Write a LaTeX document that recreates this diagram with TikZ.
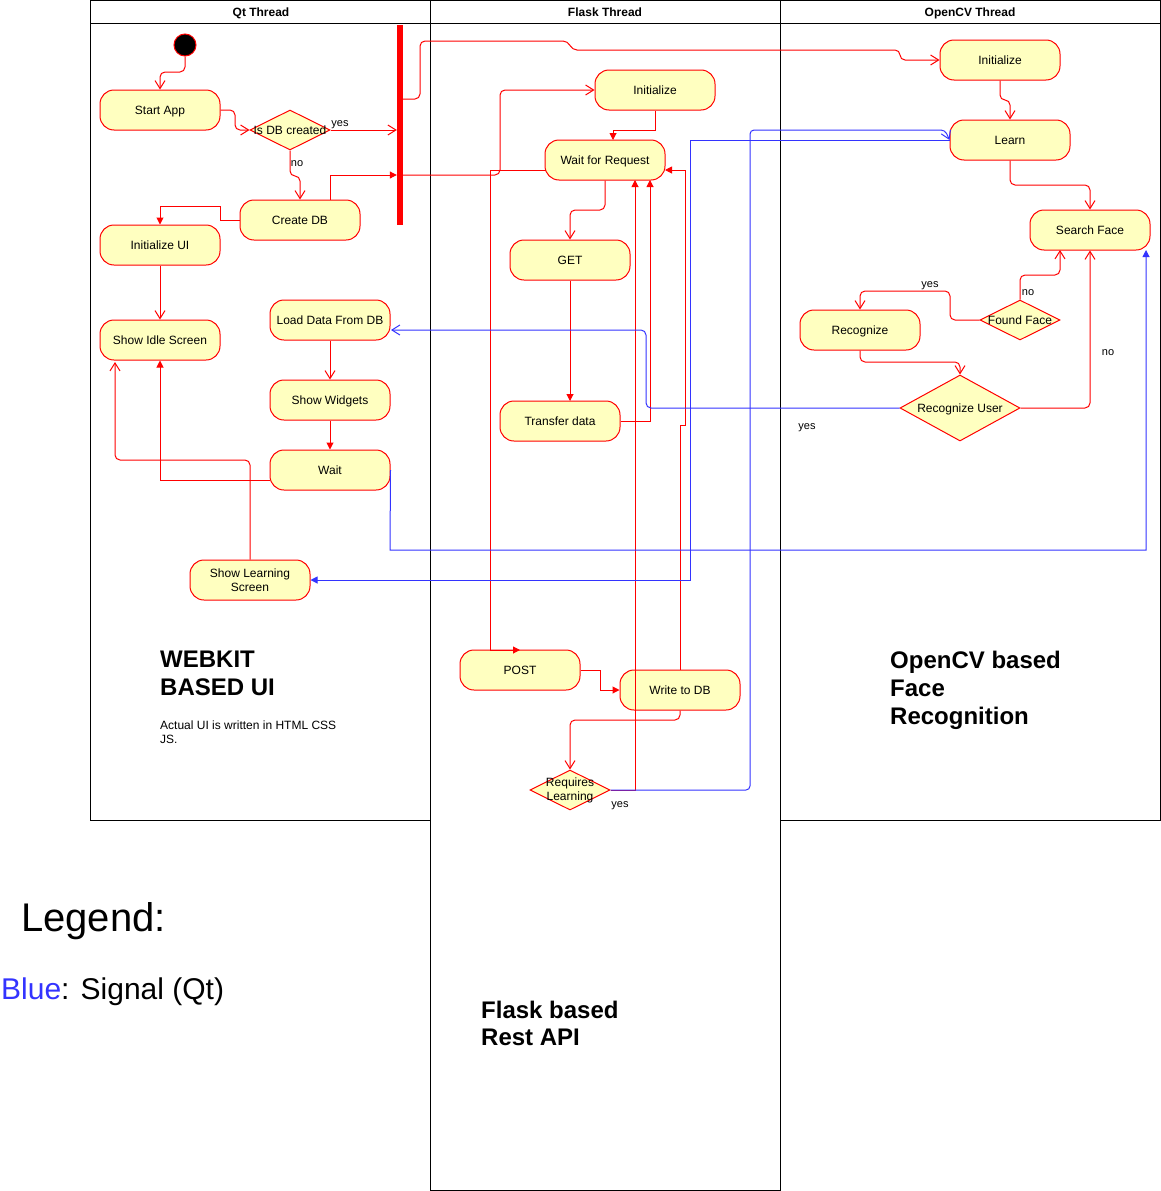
\documentclass[tikz,border=0pt]{standalone}
\usepackage{fontspec}
\setmainfont{Liberation Sans}
\usetikzlibrary{arrows.meta,shapes.geometric,calc}
\definecolor{actfill}{RGB}{255,255,192}
\definecolor{sigblue}{RGB}{51,51,255}
\begin{document}
\begin{tikzpicture}[x=1pt,y=-1pt,
  lane/.style={draw=black,line width=1pt},
  hdr/.style={font=\fontsize{12}{14}\selectfont\bfseries,inner sep=0pt,text height=9pt,text depth=2pt},
  actbase/.style={draw=red,fill=actfill,rounded corners=14pt,minimum width=120pt,minimum height=40pt,
    inner sep=0pt,align=center,font=\fontsize{12}{14}\selectfont,line width=1pt},
  act/.style={actbase,text height=10pt,text depth=2pt},
  dec/.style={draw=red,fill=actfill,diamond,inner sep=0pt,line width=1pt},
  dtxt/.style={inner sep=0pt,align=center,font=\fontsize{12}{14}\selectfont},
  dtxt1/.style={dtxt,text height=10pt,text depth=2pt},
  lab/.style={inner sep=0pt,font=\fontsize{11}{13}\selectfont,text height=8pt,text depth=2pt},
  big/.style={inner sep=0pt,anchor=base west,font=\fontsize{24}{28}\selectfont\bfseries},
  small/.style={inner sep=0pt,anchor=base west,font=\fontsize{12}{14}\selectfont},
  re/.style={draw=red,line width=1pt},
  be/.style={draw=sigblue,line width=1pt},
  oa/.style={-{Straight Barb[length=8pt,width=10pt]}},
  fa/.style={-{Triangle[length=7pt,width=7pt]}},
  rc/.style={rounded corners=5pt}
]
\useasboundingbox (0,0) rectangle (1161,1191);
% lanes
\draw[lane] (90.5,0.5) rectangle (430.5,820.5);
\draw[lane] (90.5,23.5) -- (430.5,23.5);
\draw[lane] (430.5,0.5) rectangle (780.5,1190.5);
\draw[lane] (430.5,23.5) -- (780.5,23.5);
\draw[lane] (780.5,0.5) rectangle (1160.5,820.5);
\draw[lane] (780.5,23.5) -- (1160.5,23.5);
\node[hdr] (hq) at (261,13) {Qt Thread};
\node[hdr] (hf) at (605,13) {Flask Thread};
\node[hdr] (ho) at (970,13) {OpenCV Thread};

% Qt nodes
\node[circle,fill=black,draw=red,minimum size=22pt,inner sep=0pt,line width=1pt] (init) at (185,45) {};
\node[act] (sa) at (160,110) {Start App};
\node[dec,minimum width=80pt,minimum height=40pt] (dbq) at (290,130) {};
\node[dtxt1] (dbqt) at (dbq) {Is DB created};
\node[act] (cdb) at (300,220) {Create DB};
\node[act] (iui) at (160,245) {Initialize UI};
\node[act] (sis) at (160,340) {Show Idle Screen};
\node[act] (ld) at (330,320) {Load Data From DB};
\node[act] (sw) at (330,400) {Show Widgets};
\node[act] (wt) at (330,470) {Wait};
\node[actbase] (slc) at (250,580) {Show Learning\\Screen};
\node[fill=red,minimum width=6pt,minimum height=200pt,inner sep=0pt] (fork) at (400,125) {};

% Flask nodes
\node[act] (finit) at (655,90) {Initialize};
\node[act] (wfr) at (605,160) {Wait for Request};
\node[act] (get) at (570,260) {GET};
\node[act] (td) at (560,421) {Transfer data};
\node[act] (post) at (520,670) {POST};
\node[act] (wdb) at (680,690) {Write to DB};
\node[dec,minimum width=80pt,minimum height=40pt] (rl) at (570,790) {};
\node[dtxt] (rlt) at (rl) {Requires\\Learning};

% OpenCV nodes
\node[act] (oinit) at (1000,60) {Initialize};
\node[act] (lrn) at (1010,140) {Learn};
\node[act] (sf) at (1090,230) {Search Face};
\node[dec,minimum width=80pt,minimum height=40pt] (ff) at (1020,320) {};
\node[dtxt1] (fft) at (ff) {Found Face};
\node[act] (rec) at (860,330) {Recognize};
\node[dec,minimum width=120pt,minimum height=66pt] (rcu) at (960,408) {};
\node[dtxt1] (rcut) at (rcu) {Recognize User};

% Qt edges
\draw[re,oa,rc] (init.south) -- (185,72) -- (160,72) -- (sa.north);
\draw[re,oa,rc] (sa.east) -- (235,110) -- (235,130) -- (dbq.west);
\draw[re,oa] (dbq.east) -- (dbq.east -| fork.west);
\node[lab] (l1) at (340,123) {yes};
\draw[re,oa,rc] (dbq.south) -- (290,176) -- (300,176) -- (cdb.north);
\node[lab] (l2) at (297,163) {no};
\draw[re,fa] ($(cdb.north)+(30,0)$) -- (330,175) -- (fork.west |- 0,175);
\draw[re,fa] (cdb.west) -- (220,220) -- (220,206) -- (160,206) -- (iui.north);
\draw[re,oa] (iui.south) -- (sis.north);
\draw[re,oa] (ld.south) -- (sw.north);
\draw[re,fa] (sw.south) -- (wt.north);
\draw[re,fa] (270,480) -- (160,480) -- (sis.south);
\draw[re,oa,rc] (slc.north) -- (250,460) -- (115,460) -- (115,362);

% fork outputs
\draw[re,oa,rc] (fork.east |- 0,99) -- (420,99) -- (420,41) -- (568,41) -- (572,50) -- (900,50) -- (900,60) -- (oinit.west);
\draw[re,oa,rc] (fork.east |- 0,175) -- (500,175) -- (500,90) -- (finit.west);

% Flask edges
\draw[re,fa] (finit.south) -- (655,130) -- (613,130) -- (613,140);
\draw[re,oa,rc] (wfr.south) -- (605,210) -- (570,210) -- (get.north);
\draw[re,fa] (get.south) -- (570,401);
\draw[re,fa] (td.east) -- (650,421) -- (650,180);
\draw[re,fa] (rl.east) -- (635,790) -- (635,180);
\draw[re,fa] (wdb.north) -- (680,425) -- (685,425) -- (685,170) -- (665,170);
\draw[re,fa] (546,170) -- (490,170) -- (490,650) -- (520,650);
\draw[re,fa] (post.east) -- (600,670) -- (600,690) -- (wdb.west);
\draw[re,oa,rc] (wdb.south) -- (680,720) -- (570,720) -- (rl.north);

% OpenCV edges
\draw[re,oa,rc] (oinit.south) -- (1000,100) -- (1010,100) -- (lrn.north);
\draw[re,oa,rc] (lrn.south) -- (1010,185) -- (1090,185) -- (sf.north);
\draw[re,oa,rc] (ff.north) -- (1020,275) -- (1060,275) -- (1060,250);
\node[lab] (l3) at (1028,292) {no};
\draw[re,oa,rc] (ff.west) -- (950,320) -- (950,291) -- (860,291) -- (rec.north);
\node[lab] (l4) at (930,284) {yes};
\draw[re,oa,rc] (rec.south) -- (860,362) -- (960,362) -- (rcu.north);
\draw[re,oa,rc] (rcu.east) -- (1090,408) -- (sf.south);
\node[lab] (l5) at (1108,352) {no};

% blue signals
\draw[be,oa,rounded corners=4pt] (rl.east) -- (750,790) -- (750,130) -- (945,130) -- (lrn.west);
\node[lab] (l6) at (620,804) {yes};
\draw[be,fa] (lrn.west) -- (690,140) -- (690,580) -- (slc.east);
\draw[be,fa] (wt.east) -- (390,550) -- (1146,550) -- (1146,250);
\draw[be,oa,rc] (rcu.west) -- (646,408) -- (646,330) -- (391,330);
\node[lab] (l7) at (807,426) {yes};

% texts
\node[big] (w1) at (160,667) {WEBKIT};
\node[big] (w2) at (160,695) {BASED UI};
\node[small] (w3) at (160,729) {Actual UI is written in HTML CSS};
\node[small] (w4) at (160,743) {JS.};
\node[big] (f1) at (481,1018) {Flask based};
\node[big] (f2) at (481,1045) {Rest API};
\node[big] (o1) at (890,668) {OpenCV based};
\node[big] (o2) at (890,696) {Face};
\node[big] (o3) at (890,724) {Recognition};
\node[inner sep=0pt,anchor=base west,font=\fontsize{40}{48}\selectfont] (lg1) at (21,931) {Legend:};
\node[inner sep=0pt,anchor=base west,font=\fontsize{30}{36}\selectfont] (lg2) at (1,999) {\textcolor{sigblue}{Blue}: Signal (Qt)};
\end{tikzpicture}
\end{document}
